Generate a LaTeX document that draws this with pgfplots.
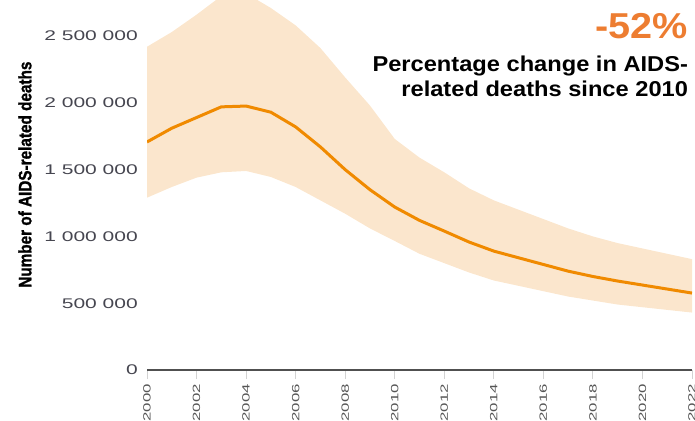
\documentclass[border=0pt]{standalone}
\usepackage{pgfplots}
\pgfplotsset{compat=1.18}
\usepackage{pgfplotstable}
\usepgfplotslibrary{fillbetween}
\usepackage{fontspec}
\setmainfont{Liberation Sans}
\newfontfamily\tickfont[FakeStretch=1.5]{Liberation Sans}
\newfontfamily\yearfont[FakeStretch=1.6]{Liberation Sans}
\newfontfamily\labfont[FakeStretch=0.85,FakeBold=1.2]{Liberation Sans}
\newfontfamily\annfont[FakeStretch=1.1]{Liberation Sans}
\definecolor{band}{RGB}{251,230,205}
\definecolor{lineor}{RGB}{240,138,0}
\definecolor{pct}{RGB}{237,125,49}
\definecolor{ticktxt}{RGB}{70,70,80}
\definecolor{yeartxt}{RGB}{85,85,85}
\definecolor{axln}{RGB}{80,80,80}

\pgfplotstableread{
year mid lo up
2000 1707000 1290000 2420000
2001 1810000 1370000 2530000
2002 1890000 1440000 2660000
2003 1970000 1480000 2800000
2004 1976000 1490000 2820000
2005 1930000 1445000 2710000
2006 1820000 1370000 2580000
2007 1670000 1270000 2410000
2008 1500000 1170000 2190000
2009 1350000 1060000 1980000
2010 1220000 966000 1730000
2011 1120000 870000 1590000
2012 1040000 800000 1480000
2013 958000 730000 1360000
2014 890000 670000 1270000
2015 840000 630000 1200000
2016 790000 590000 1130000
2017 740000 550000 1060000
2018 700000 520000 1000000
2019 666000 490000 950000
2020 636000 470000 910000
2021 606000 450000 870000
2022 576000 430000 830000
}\data

\begin{document}
\begin{tikzpicture}
\begin{axis}[name=ax, at={(0,0)}, anchor=south west,
  scale only axis, width=545bp, height=370bp,
  xmin=2000, xmax=2022, ymin=0, ymax=2770000,
  axis x line*=bottom, axis y line*=left,
  y axis line style={draw=none},
  x axis line style={draw=axln, line width=2.2bp, -},
  xtick={2000,2002,2004,2006,2008,2010,2012,2014,2016,2018,2020,2022},
  xticklabels={2000,2002,2004,2006,2008,2010,2012,2014,2016,2018,2020,2022},
  xticklabel style={rotate=90, anchor=east, inner sep=0pt,
    font=\yearfont\fontsize{10.5bp}{12bp}\selectfont, text=yeartxt},
  xticklabel shift=5bp,
  ytick={0,500000,1000000,1500000,2000000,2500000},
  yticklabels={0,500 000,1 000 000,1 500 000,2 000 000,2 500 000},
  yticklabel style={font=\tickfont\fontsize{14bp}{16bp}\selectfont, text=ticktxt, inner sep=0pt},
  ytick style={draw=none},
  xtick style={draw=gray!35, line width=1bp},
  tick align=outside, major tick length=9bp,
  scaled y ticks=false,
  ylabel={Number of AIDS-related deaths},
  ylabel style={at={(axis description cs:-0.224,0.528)}, anchor=center,
    font=\labfont\bfseries\fontsize{18bp}{20bp}\selectfont, text=black},
]
\addplot[name path=up, draw=none, forget plot] table[x=year, y=up] {\data};
\addplot[name path=lo, draw=none, forget plot] table[x=year, y=lo] {\data};
\addplot[fill=band, draw=none, forget plot] fill between[of=up and lo];
\addplot[lineor, line width=3bp] table[x=year, y=mid] {\data};
\node[anchor=base east, inner sep=0pt, text=pct, font=\annfont\bfseries\fontsize{36bp}{40bp}\selectfont]
  at (axis description cs:0.993,0.897) {-52\%};
\node[anchor=base east, inner sep=0pt, text=black, font=\annfont\bfseries\fontsize{21.5bp}{24bp}\selectfont]
  at (axis description cs:0.993,0.808) {Percentage change in AIDS-};
\node[anchor=base east, inner sep=0pt, text=black, font=\annfont\bfseries\fontsize{21.5bp}{24bp}\selectfont]
  at (axis description cs:0.993,0.738) {related deaths since 2010};
\end{axis}
\pgfresetboundingbox
\path ([shift={(-147bp,-51bp)}]ax.south west) rectangle ([shift={(3bp,0bp)}]ax.north east);
\end{tikzpicture}
\end{document}
